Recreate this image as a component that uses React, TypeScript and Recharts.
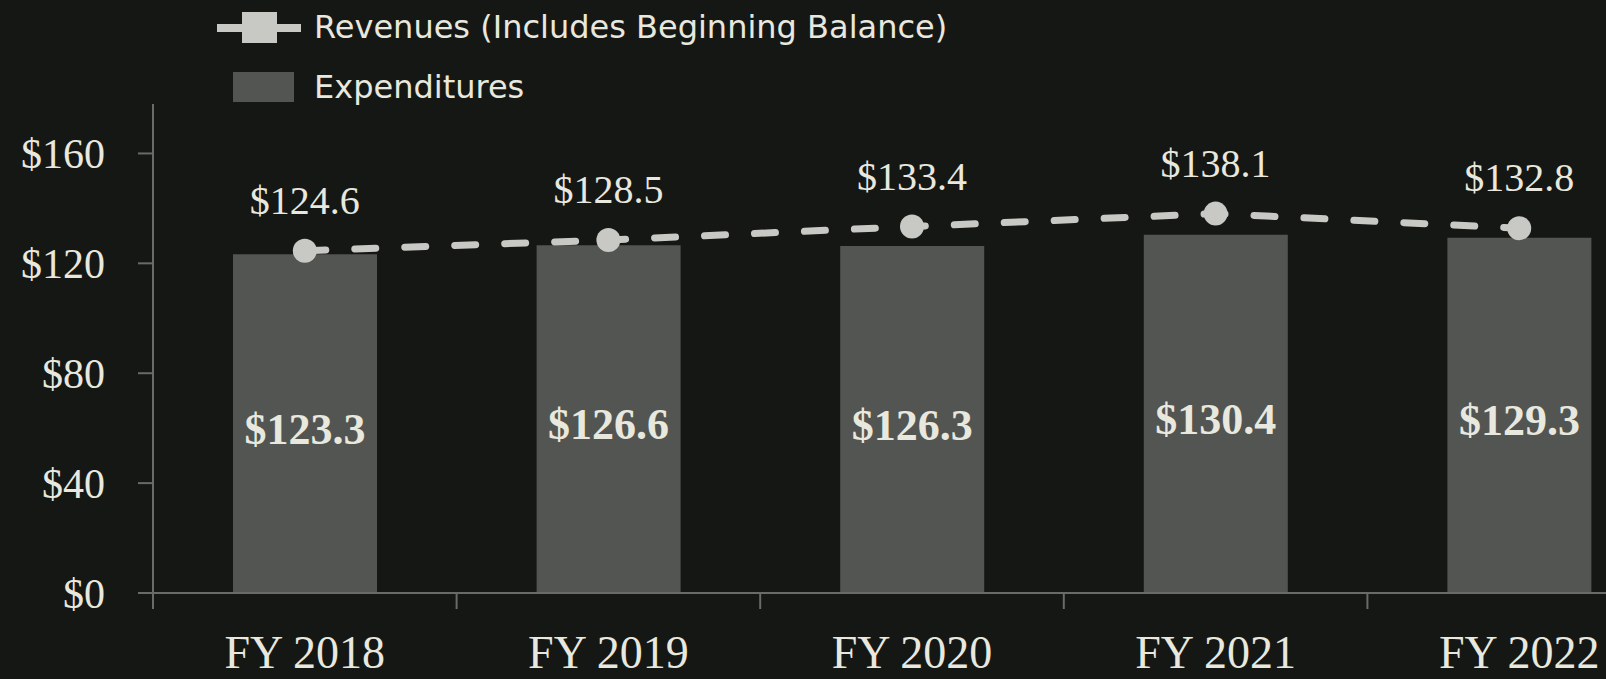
import { Bar, ComposedChart, LabelList, Line, XAxis, YAxis } from "recharts";

const years = ["FY 2018", "FY 2019", "FY 2020", "FY 2021", "FY 2022"];
const revenues = [124.6, 128.5, 133.4, 138.1, 132.8];
const expenditures = [123.3, 126.6, 126.3, 130.4, 129.3];
const yTicks = [0, 40, 80, 120, 160];
const yDomain = [0, 178];

const data = years.map((year, i) => ({
  year,
  revenue: revenues[i],
  expenditure: expenditures[i],
}));

const bg = "#151715";
const textColor = "#e8e8df";
const lineColor = "#c8c9c4";
const barColor = "#535552";
const axisColor = "#6a6b68";
const serif = "'Liberation Serif', 'DejaVu Serif', serif";
const sans = "'DejaVu Sans', Verdana, sans-serif";

const yTickStyle = { fill: textColor, fontSize: 42, fontFamily: serif };
const chartMargin = { top: 104, right: 0, bottom: 0, left: 0 };
const dotStyle = { r: 12, fill: lineColor, stroke: "none" };

const money = (v: unknown) => `$${Number(v).toFixed(1)}`;
const dollars = (v: unknown) => `$${v}`;

// category label plus the small tick marks at the band edges
function XTick(props: any) {
  const { x, y, payload, index, visibleTicksCount } = props;
  const half = payload?.offset ?? 0;
  const last = index === visibleTicksCount - 1;
  return (
    <g>
      <line x1={x - half} x2={x - half} y1={y} y2={y + 16} stroke={axisColor} strokeWidth={2} />
      {last && (
        <line x1={x + half} x2={x + half} y1={y} y2={y + 16} stroke={axisColor} strokeWidth={2} />
      )}
      <text
        x={x}
        y={y + 75}
        textAnchor="middle"
        fill={textColor}
        fontSize={46}
        fontFamily={serif}
      >
        {payload.value}
      </text>
    </g>
  );
}

function LegendBox() {
  return (
    <svg
      width={1000}
      height={110}
      style={{ position: "absolute", top: 0, left: 0, display: "block" }}
    >
      <rect x={217} y={24} width={84} height={8} fill={lineColor} />
      <rect x={242} y={12} width={35} height={31} fill={lineColor} />
      <text x={314} y={38} fill={textColor} fontSize={32} fontFamily={sans}>
        Revenues (Includes Beginning Balance)
      </text>
      <rect x={233} y={72} width={61} height={30} fill={barColor} />
      <text x={314} y={98} fill={textColor} fontSize={32} fontFamily={sans}>
        Expenditures
      </text>
    </svg>
  );
}

function BarValue(props: any) {
  const { x, y, width, height, value } = props;
  return (
    <text
      x={x + width / 2}
      y={y + height / 2 + 20}
      textAnchor="middle"
      fill={textColor}
      fontSize={44}
      fontWeight="bold"
      fontFamily={serif}
    >
      {money(value)}
    </text>
  );
}

export default function App() {
  return (
    <div
      style={{
        position: "relative",
        width: 1606,
        height: 679,
        overflow: "hidden",
        background: bg,
      }}
    >
      <style>{`body{margin:0;background:${bg};overflow:hidden}`}</style>
      <ComposedChart width={1671} height={679} data={data} margin={chartMargin}>
        <XAxis
          dataKey="year"
          stroke={axisColor}
          strokeWidth={2}
          tickLine={false}
          tickSize={0}
          tickMargin={0}
          height={86}
          interval={0}
          tick={XTick}
        />
        <YAxis
          width={153}
          domain={yDomain}
          ticks={yTicks}
          allowDataOverflow
          tickSize={15}
          tickMargin={33}
          stroke={axisColor}
          strokeWidth={2}
          tickFormatter={dollars}
          tick={yTickStyle}
        />
        <Bar dataKey="expenditure" fill={barColor} barSize={144} isAnimationActive={false}>
          <LabelList dataKey="expenditure" content={BarValue} />
        </Bar>
        <Line
          type="linear"
          dataKey="revenue"
          stroke={lineColor}
          strokeWidth={7}
          strokeDasharray="21 29"
          strokeLinecap="round"
          dot={dotStyle}
          activeDot={false}
          isAnimationActive={false}
        >
          <LabelList
            dataKey="revenue"
            position="top"
            offset={37}
            formatter={money}
            fill={textColor}
            fontSize={40}
            fontFamily={serif}
          />
        </Line>
      </ComposedChart>
      <LegendBox />
    </div>
  );
}
